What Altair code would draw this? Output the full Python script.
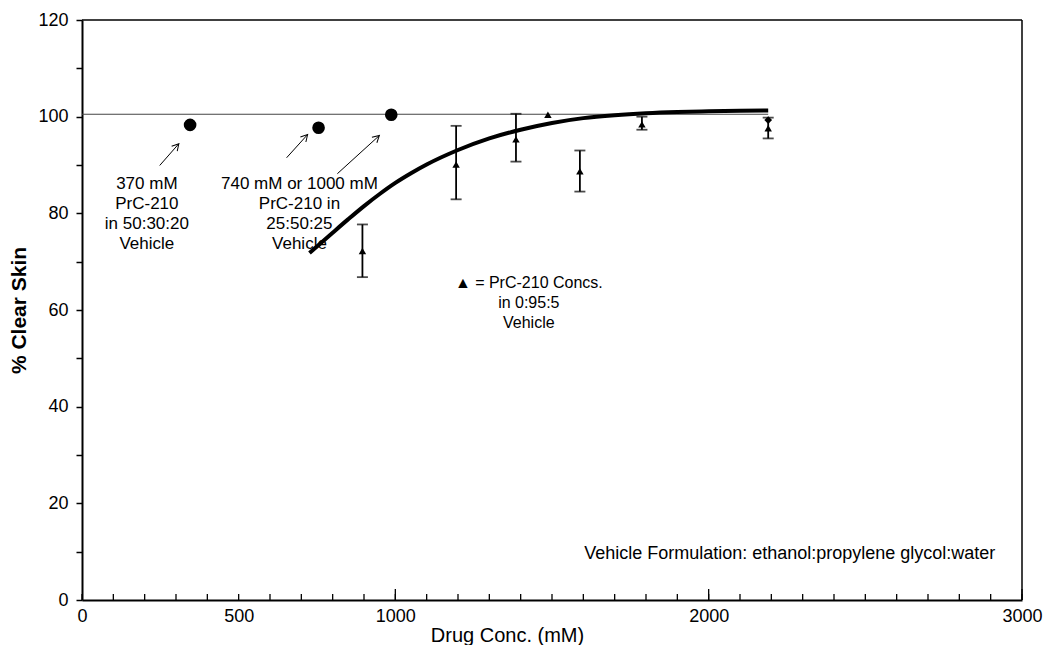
import altair as alt
import pandas as pd

# ---------------- data ----------------
circle_x = [345, 755, 987]
circle_y = [98.3, 97.7, 100.4]

tri_x = [895, 1194, 1385, 1487, 1589, 1787, 2190]
tri_y = [72.2, 90.1, 95.3, 100.4, 88.7, 98.4, 97.6]
tri_lo = [66.8, 82.9, 90.7, None, 84.5, 97.3, 95.5]
tri_hi = [77.7, 98.1, 100.6, None, 93.0, 100.0, 99.8]

diamond_x = [2190]
diamond_y = [99.3]

curve_x = [726, 800, 850, 900, 950, 1000, 1050, 1100, 1200, 1300, 1400, 1500,
           1600, 1700, 1800, 1900, 2000, 2100, 2190]
curve_y = [71.8, 76.0, 78.8, 81.5, 84.0, 86.3, 88.3, 90.1, 93.1, 95.5, 97.3, 98.7,
           99.7, 100.3, 100.7, 100.95, 101.1, 101.2, 101.3]

ref_x = [0, 2190]
ref_y = [100.5, 100.5]

minor_ticks_x = list(range(0, 3001, 100))
major_ticks_x = [1000, 2000, 3000]

x_label_values = [0, 500, 1000, 2000, 3000]
y_tick_values = list(range(0, 121, 10))

# annotations (data units)
ann1_lines = ["370 mM", "PrC-210", "in 50:30:20", "Vehicle"]
ann2_lines = ["740 mM or 1000 mM", "PrC-210 in", "25:50:25", "Vehicle"]
ann3_lines = ["\u25B2 = PrC-210 Concs.", "in 0:95:5", "Vehicle"]
ann1_x, ann2_x, ann3_x = [207] * 4, [694] * 4, [1426] * 3
ann1_y = [86.0, 81.9, 77.8, 73.7]
ann2_y = [86.0, 81.9, 77.8, 73.7]
ann3_y = [65.5, 61.4, 57.3]
footer_text = ["Vehicle Formulation: ethanol:propylene glycol:water"]
footer_x = [2915]
footer_y = [9.5]

arrow_x0 = [248, 653, 815]
arrow_y0 = [89.9, 91.5, 88.2]
arrow_x1 = [309, 720, 949]
arrow_y1 = [94.4, 96.3, 96.1]
arrow_angle = [41, 42, 48]

# ---------------- chart ----------------
W, H = 940, 580
FONT = "Liberation Sans"

xs = alt.Scale(domain=[0, 3000], nice=False, zero=False)
ys = alt.Scale(domain=[0, 120], nice=False)

x_axis = alt.Axis(values=x_label_values, title="Drug Conc. (mM)", grid=False, format="d",
                  tickSize=0, labelFontSize=18, labelFont=FONT, labelColor="black",
                  labelPadding=7, titleFontSize=20, titleFont=FONT, titleFontWeight="normal",
                  titleColor="black", titleX=425, titleY=35, titleBaseline="middle",
                  domainColor="black", domainWidth=2, labelFlush=False)
y_axis = alt.Axis(values=y_tick_values, title="% Clear Skin", grid=False,
                  tickSize=6, tickColor="black", tickWidth=1.5,
                  labelExpr="datum.value % 20 == 0 ? datum.label : ''",
                  labelFontSize=18, labelFont=FONT, labelColor="black", labelPadding=8,
                  titleFontSize=21, titleFont=FONT, titleFontWeight="bold",
                  titleColor="black", titlePadding=8,
                  domainColor="black", domainWidth=2)


def X(field="x"):
    return alt.X(f"{field}:Q", scale=xs, axis=x_axis)


def Y(field="y"):
    return alt.Y(f"{field}:Q", scale=ys, axis=y_axis)


ref = alt.Chart(pd.DataFrame({"x": ref_x, "y": ref_y})).mark_line(
    color="#444", strokeWidth=1.2).encode(x=X(), y=Y())

curve = alt.Chart(pd.DataFrame({"x": curve_x, "y": curve_y})).mark_line(
    color="black", strokeWidth=4, interpolate="monotone").encode(x=X(), y=Y())

err_df = pd.DataFrame({"x": tri_x, "lo": tri_lo, "hi": tri_hi}).dropna()
err_rule = alt.Chart(err_df).mark_rule(color="black", strokeWidth=1.8).encode(
    x=X(), y=Y("lo"), y2="hi:Q")
cap_lo = alt.Chart(err_df).mark_tick(color="black", orient="horizontal", size=11,
                                     thickness=1.8).encode(x=X(), y=Y("lo"))
cap_hi = alt.Chart(err_df).mark_tick(color="black", orient="horizontal", size=11,
                                     thickness=1.8).encode(x=X(), y=Y("hi"))

tri = alt.Chart(pd.DataFrame({"x": tri_x, "y": tri_y})).mark_point(
    shape="triangle-up", filled=True, color="black", opacity=1, size=55).encode(x=X(), y=Y())
dia = alt.Chart(pd.DataFrame({"x": diamond_x, "y": diamond_y})).mark_point(
    shape="diamond", filled=True, color="black", opacity=1, size=60).encode(x=X(), y=Y())
circ = alt.Chart(pd.DataFrame({"x": circle_x, "y": circle_y})).mark_point(
    shape="circle", filled=True, color="black", opacity=1, size=160).encode(x=X(), y=Y())

# x ticks drawn inward
minor = alt.Chart(pd.DataFrame({"x": minor_ticks_x})).mark_rule(
    color="black", strokeWidth=1.3).encode(x=X(), y=alt.value(H), y2=alt.value(H - 6))
major = alt.Chart(pd.DataFrame({"x": major_ticks_x})).mark_rule(
    color="black", strokeWidth=1.3).encode(x=X(), y=alt.value(H), y2=alt.value(H - 11))

# frame: top and right borders
frame_top = alt.Chart(pd.DataFrame({"x": [0]})).mark_rule(
    color="black", strokeWidth=1.5).encode(x=alt.value(0), x2=alt.value(W), y=alt.value(0))
frame_right = alt.Chart(pd.DataFrame({"x": [0]})).mark_rule(
    color="black", strokeWidth=1.5).encode(x=alt.value(W), y=alt.value(0), y2=alt.value(H))

# arrows
arr_df = pd.DataFrame({"x": arrow_x0, "y": arrow_y0, "x2": arrow_x1, "y2": arrow_y1,
                       "a": arrow_angle})
arr_line = alt.Chart(arr_df).mark_rule(color="black", strokeWidth=1).encode(
    x=X(), y=Y(), x2="x2:Q", y2="y2:Q")
arr_head = alt.Chart(arr_df).mark_point(
    shape="M -0.5 0.9 L 0 0 L 0.5 0.9", filled=False, color="black", strokeWidth=1,
    opacity=1, size=220).encode(x=X("x2"), y=Y("y2"), angle=alt.Angle("a:Q", scale=None))


def text_layer(xv, yv, lines, size=15, align="center", weight="normal"):
    df = pd.DataFrame({"x": xv, "y": yv, "t": lines})
    return alt.Chart(df).mark_text(font=FONT, fontSize=size, color="black",
                                   align=align, baseline="middle", fontWeight=weight).encode(
        x=X(), y=Y(), text="t:N")


t1 = text_layer(ann1_x, ann1_y, ann1_lines, size=17)
t2 = text_layer(ann2_x, ann2_y, ann2_lines, size=17)
t3 = text_layer(ann3_x, ann3_y, ann3_lines, size=16)
t4 = text_layer(footer_x, footer_y, footer_text, size=18, align="right")

chart = alt.layer(ref, minor, major, frame_top, frame_right, curve, err_rule, cap_lo,
                  cap_hi, tri, dia, circ, arr_line, arr_head, t1, t2, t3, t4).properties(
    width=W, height=H,
    background="white",
    autosize=alt.AutoSizeParams(type="none"),
    padding={"left": 74, "top": 12, "right": 27, "bottom": 45},
).configure_view(stroke=None)

chart.save("out.html", embed_options={"renderer": "svg", "actions": False})
